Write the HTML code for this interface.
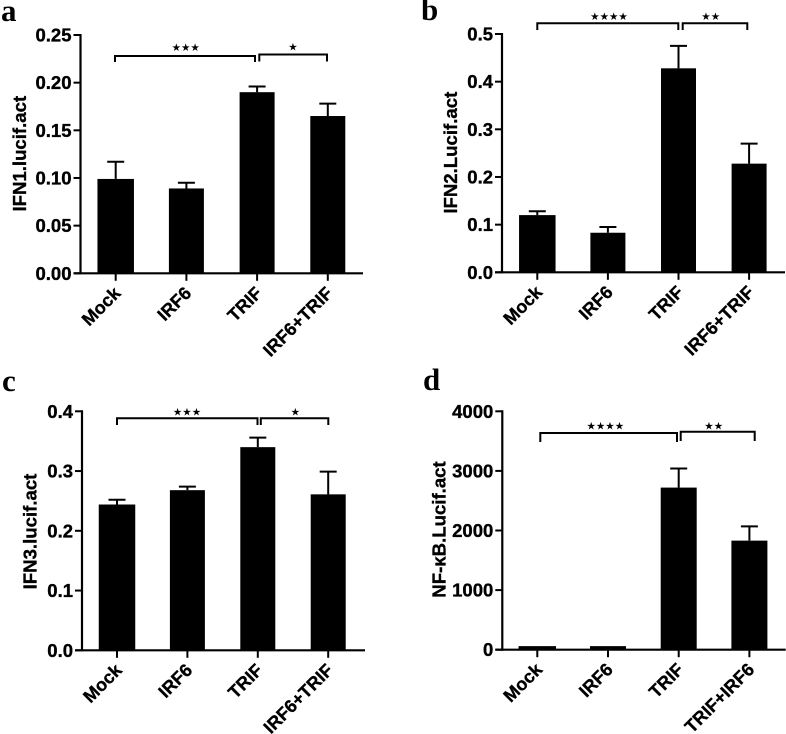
<!DOCTYPE html>
<html>
<head>
<meta charset="utf-8">
<title>Luciferase activity charts</title>
<style>
html,body{margin:0;padding:0;background:#fff;}
svg{display:block;filter:blur(0.35px);}
text{font-family:"Liberation Sans",sans-serif;font-weight:bold;fill:#000;}
.heavy{stroke:#000;stroke-width:0.35px;}
.letter{font-family:"Liberation Serif",serif;font-size:31px;}
.stars{font-family:"DejaVu Sans",sans-serif;font-weight:normal;}
</style>
</head>
<body>
<svg id="figure" width="786" height="734" viewBox="0 0 786 734" xmlns="http://www.w3.org/2000/svg"></svg>
<script>
// Data
const categoriesA = ["Mock", "IRF6", "TRIF", "IRF6+TRIF"];
const valuesA = [0.099, 0.089, 0.190, 0.165];
const errorTopsA = [0.117, 0.095, 0.196, 0.178];
const tickValuesA = [0, 0.05, 0.10, 0.15, 0.20, 0.25];
const tickLabelsA = ["0.00", "0.05", "0.10", "0.15", "0.20", "0.25"];

const categoriesB = ["Mock", "IRF6", "TRIF", "IRF6+TRIF"];
const valuesB = [0.120, 0.083, 0.428, 0.228];
const errorTopsB = [0.128, 0.095, 0.475, 0.270];
const tickValuesB = [0, 0.1, 0.2, 0.3, 0.4, 0.5];
const tickLabelsB = ["0.0", "0.1", "0.2", "0.3", "0.4", "0.5"];

const categoriesC = ["Mock", "IRF6", "TRIF", "IRF6+TRIF"];
const valuesC = [0.244, 0.268, 0.340, 0.261];
const errorTopsC = [0.252, 0.274, 0.356, 0.299];
const tickValuesC = [0, 0.1, 0.2, 0.3, 0.4];
const tickLabelsC = ["0.0", "0.1", "0.2", "0.3", "0.4"];

const categoriesD = ["Mock", "IRF6", "TRIF", "TRIF+IRF6"];
const valuesD = [60, 60, 2720, 1830];
const errorTopsD = [60, 60, 3040, 2070];
const tickValuesD = [0, 1000, 2000, 3000, 4000];
const tickLabelsD = ["0", "1000", "2000", "3000", "4000"];

const NS = "http://www.w3.org/2000/svg";
const root = document.getElementById("figure");

function make(tag, attrs, parent) {
  const el = document.createElementNS(NS, tag);
  for (const k in attrs) el.setAttribute(k, attrs[k]);
  parent.appendChild(el);
  return el;
}

function drawPanel(p) {
  const yMax = p.ticks[p.ticks.length - 1];
  const yScale = v => p.y0 - (v / yMax) * (p.y0 - p.yTop);
  const xScale = i => p.c0 + i * p.step;

  const g = make("g", {}, root);
  
  

  const letter = make("text", {x: p.letterX, y: p.letterY, "class": "letter"}, g);
  letter.textContent = p.id;
  
  

  const title = make("text", {
    transform: "translate(" + p.titleX + "," + p.titleY + ") rotate(-90)",
    "text-anchor": "middle", "font-size": p.titleSize, "class": "heavy"
  }, g);
  title.textContent = p.title;
  
  

  // bars
  p.values.forEach((v, i) => {
    const w = i === 0 ? p.barW + 1.5 : p.barW;
    const bar = make("rect", {
      x: xScale(i) - w / 2, y: yScale(v), width: w, height: p.y0 - yScale(v), fill: "#000"
    }, g);
    
    

    if (p.errors[i] > v) {
      const err = make("path", {
        d: "M" + xScale(i) + " " + yScale(v) + "V" + yScale(p.errors[i]) +
           "M" + (xScale(i) - 8.5) + " " + yScale(p.errors[i]) + "H" + (xScale(i) + 8.5),
        stroke: "#000", "stroke-width": 2, fill: "none"
      }, g);
      
      
    }

    const tick = make("line", {
      x1: xScale(i), x2: xScale(i), y1: p.y0, y2: p.y0 + 7.5, stroke: "#000", "stroke-width": 2
    }, g);
    
    

    const label = make("text", {
      transform: "translate(" + (xScale(i) + 6) + "," + (p.y0 + 21) + ") rotate(-45)",
      "text-anchor": "end", "font-size": 18, "class": "heavy"
    }, g);
    label.textContent = p.categories[i];
    
    
  });

  // axes
  const yAxis = make("line", {
    x1: p.axisX, x2: p.axisX, y1: p.yTop - 1, y2: p.y0 + 1, stroke: "#000", "stroke-width": 2.2
  }, g);
  
  

  const xAxis = make("line", {
    x1: p.axisX - 7, x2: p.xEnd, y1: p.y0, y2: p.y0, stroke: "#000", "stroke-width": 2.2
  }, g);
  
  

  p.ticks.forEach((t, i) => {
    const tick = make("line", {
      x1: p.axisX - 7, x2: p.axisX, y1: yScale(t), y2: yScale(t), stroke: "#000", "stroke-width": 2
    }, g);
    
    

    const label = make("text", {
      x: p.axisX - 9, y: yScale(t) + 6.5, "text-anchor": "end", "font-size": 18.5, "class": "heavy"
    }, g);
    label.textContent = p.tickLabels[i];
    
    
  });

  // significance brackets
  p.brackets.forEach((b, i) => {
    const br = make("path", {
      d: "M" + b.x1 + " " + b.drop + "V" + b.y + "H" + b.x2 + "V" + b.drop,
      stroke: "#000", "stroke-width": 2, fill: "none"
    }, g);
    
    

    const stars = make("text", {
      x: b.starX, y: b.starY - 3, "text-anchor": "middle", "font-size": 10.5, "class": "stars"
    }, g);
    stars.textContent = b.stars;
    
    
  });
}

drawPanel({
  id: "a", title: "IFN1.lucif.act", titleSize: 18.6, titleX: 26, titleY: 153.7,
  letterX: 1, letterY: 21,
  categories: categoriesA, values: valuesA, errors: errorTopsA, ticks: tickValuesA, tickLabels: tickLabelsA,
  axisX: 80.5, y0: 273.3, yTop: 35, xEnd: 363, c0: 115.7, step: 70.7, barW: 35,
  brackets: [
    {x1: 115, x2: 255, y: 56, drop: 62, stars: "\u2605\u2605\u2605", starX: 185.7, starY: 54},
    {x1: 259.3, x2: 327, y: 54.5, drop: 61.5, stars: "\u2605", starX: 293, starY: 53.5}
  ]
});
drawPanel({
  id: "b", title: "IFN2.Lucif.act", titleSize: 18.6, titleX: 457, titleY: 152.7,
  letterX: 421, letterY: 20,
  categories: categoriesB, values: valuesB, errors: errorTopsB, ticks: tickValuesB, tickLabels: tickLabelsB,
  axisX: 502, y0: 272.3, yTop: 34, xEnd: 785, c0: 537.3, step: 70.6, barW: 35,
  brackets: [
    {x1: 537.3, x2: 678.3, y: 23.3, drop: 30, stars: "\u2605\u2605\u2605\u2605", starX: 609, starY: 23},
    {x1: 682.7, x2: 747.3, y: 23.3, drop: 30, stars: "\u2605\u2605", starX: 710.7, starY: 23}
  ]
});
drawPanel({
  id: "c", title: "IFN3.lucif.act", titleSize: 18.6, titleX: 36.7, titleY: 531.5,
  letterX: 2, letterY: 391,
  categories: categoriesC, values: valuesC, errors: errorTopsC, ticks: tickValuesC, tickLabels: tickLabelsC,
  axisX: 82, y0: 650.3, yTop: 411.3, xEnd: 365, c0: 117, step: 70.4, barW: 35,
  brackets: [
    {x1: 117, x2: 257.5, y: 418.3, drop: 425, stars: "\u2605\u2605\u2605", starX: 187, starY: 418.5},
    {x1: 260.8, x2: 328.3, y: 418.3, drop: 425, stars: "\u2605", starX: 295.3, starY: 418.5}
  ]
});
drawPanel({
  id: "d", title: "NF-\u03BAB.Lucif.act", titleSize: 18.6, titleX: 445.7, titleY: 529.5,
  letterX: 423, letterY: 390,
  categories: categoriesD, values: valuesD, errors: errorTopsD, ticks: tickValuesD, tickLabels: tickLabelsD,
  axisX: 502.3, y0: 649.7, yTop: 411.3, xEnd: 785.7, c0: 537.3, step: 70.7, barW: 36,
  brackets: [
    {x1: 540.3, x2: 677, y: 433, drop: 442, stars: "\u2605\u2605\u2605\u2605", starX: 605.3, starY: 432.5},
    {x1: 680.7, x2: 754.7, y: 431.7, drop: 441, stars: "\u2605\u2605", starX: 713.7, starY: 432.5}
  ]
});
</script>
</body>
</html>
